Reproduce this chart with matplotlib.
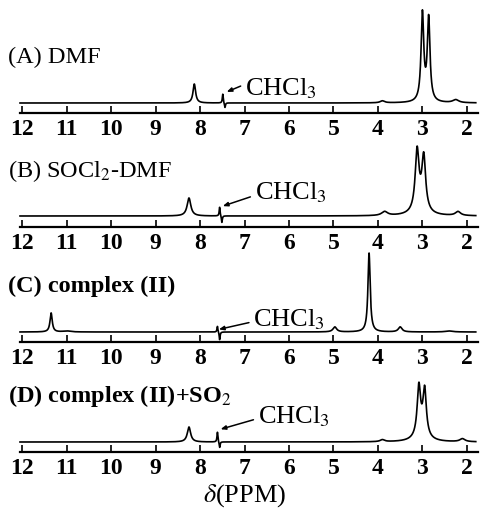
import numpy as np
import matplotlib.pyplot as plt

plt.rcParams['font.family'] = ['Liberation Serif', 'DejaVu Serif']
plt.rcParams['mathtext.fontset'] = 'stix'

# peak tables: position (ppm), height, half width (ppm)
# negative heights give the dispersive CHCl3 wiggle
a_ppm = [8.13, 7.49, 7.44, 3.00, 2.86, 3.90, 2.25]
a_height = [19, 9, -5, 88, 83, 2, 3]
a_width = [0.035, 0.012, 0.012, 0.036, 0.036, 0.06, 0.08]

b_ppm = [8.25, 7.56, 7.51, 3.12, 2.97, 3.05, 3.85, 2.20]
b_height = [18, 9, -7, 58, 52, 8, 4, 4]
b_width = [0.05, 0.012, 0.012, 0.05, 0.05, 0.15, 0.08, 0.07]

c_ppm = [11.35, 11.0, 7.61, 7.56, 4.97, 4.20, 3.50, 2.40]
c_height = [19, 1, 6, -8, 5, 79, 5, 1]
c_width = [0.03, 0.1, 0.012, 0.012, 0.05, 0.03, 0.05, 0.1]

d_ppm = [8.25, 7.61, 7.56, 3.08, 2.95, 3.02, 3.90, 2.10]
d_height = [15, 10, -6, 48, 45, 8, 2, 3]
d_width = [0.045, 0.012, 0.012, 0.045, 0.045, 0.15, 0.06, 0.07]

baselines = [10, 11, 10, 10]
titles = ['(A) DMF', '(B) SOCl$_{2}$-DMF', '(C) complex (II)', '(D) complex (II)+SO$_{2}$']
title_weights = ['normal', 'normal', 'bold', 'bold']
tick_vals = [12, 11, 10, 9, 8, 7, 6, 5, 4, 3, 2]

# where the solvent label sits: text (ppm, height), arrow tip and tail (ppm, height)
chcl3_text = [(6.99, 24), (6.77, 34), (6.80, 22), (6.70, 35)]
chcl3_tip = [(7.46, 20), (7.55, 20), (7.64, 12), (7.60, 22)]
chcl3_tail = [(7.03, 28), (6.81, 31), (6.84, 20), (6.74, 33)]

panels = [(a_ppm, a_height, a_width), (b_ppm, b_height, b_width),
          (c_ppm, c_height, c_width), (d_ppm, d_height, d_width)]

# axis line pixel rows in the 512 px tall figure
axis_rows = [113, 227, 342, 452]
ax_h = 110

fig = plt.figure(figsize=(4.81, 5.12), dpi=100)
x = np.linspace(12.05, 1.8, 4000)

for i, (ppm, height, width) in enumerate(panels):
    bottom = (512 - axis_rows[i]) / 512
    ax = fig.add_axes([20 / 481, bottom, 458 / 481, ax_h / 512])
    ax.patch.set_alpha(0)
    y = np.full_like(x, baselines[i], dtype=float)
    for p, h, w in zip(ppm, height, width):
        y += h / (1 + ((x - p) / w) ** 2)
    ax.plot(x, y, color='black', lw=1.2, clip_on=False)

    ax.set_xlim(12.05, 1.75)
    ax.set_ylim(0, ax_h)
    for s in ['top', 'left', 'right']:
        ax.spines[s].set_visible(False)
    ax.spines['bottom'].set_linewidth(1.6)
    ax.set_yticks([])
    ax.set_xticks(tick_vals)
    ax.set_xticklabels([str(t) for t in tick_vals])
    ax.tick_params(axis='x', direction='in', length=5, width=1.2, pad=4,
                   labelsize=17)
    for lab in ax.get_xticklabels():
        lab.set_fontweight('bold')

    ax.text(12.31, 56, titles[i], fontsize=17.5, fontweight=title_weights[i],
            ha='left', va='center')

    ax.annotate('', xy=chcl3_tip[i], xytext=chcl3_tail[i],
                arrowprops=dict(arrowstyle='-|>,head_length=0.3,head_width=0.12',
                                color='black', lw=1.1))
    ax.text(chcl3_text[i][0], chcl3_text[i][1], 'CHCl$_{3}$', fontsize=19,
            ha='left', va='center')

    if i == 3:
        ax.set_xlabel(r'$\delta$(PPM)', fontsize=19)
        ax.xaxis.set_label_coords(0.49, -0.27)

fig.savefig('out.png', dpi=100)
